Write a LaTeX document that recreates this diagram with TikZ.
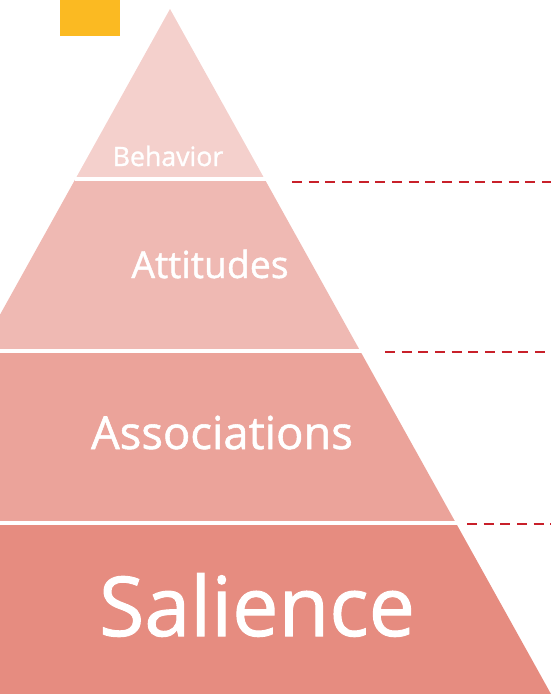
\documentclass[tikz,border=0pt]{standalone}
\usepackage{fontspec}
\setmainfont{Open Sans}
\newfontfamily\lblfont{Open Sans}[FakeBold=1.2]
\usetikzlibrary{positioning, calc}

\definecolor{tagyellow}{HTML}{FBBA22}
\definecolor{behaviorfill}{HTML}{F4D0CC}
\definecolor{attitudesfill}{HTML}{EFB9B3}
\definecolor{associationsfill}{HTML}{EBA39A}
\definecolor{saliencefill}{HTML}{E68C80}
\definecolor{guidered}{HTML}{C8202A}

\begin{document}
\begin{tikzpicture}[x=0.75pt, y=-0.75pt,
    lbl/.style={text=white, inner sep=0pt, anchor=base},
    gap/.style={white, line width=2.4pt},
    guide/.style={guidered, line width=1.7pt, dash pattern=on 7.5pt off 5pt}]

        \path[use as bounding box] (0,0) rectangle (551,694);
        \clip (0,0) rectangle (551,694);

        \fill[tagyellow] (60,0) rectangle (120,36);

        \coordinate (apex) at (170,9);
        \coordinate (L1) at (75.4,179);  \coordinate (R1) at (264.6,179);
        \coordinate (L2) at (-20.2,351); \coordinate (R2) at (360.2,351);
        \coordinate (L3) at (-115.9,523); \coordinate (R3) at (455.9,523);
        \coordinate (L4) at (-211,694);  \coordinate (R4) at (551,694);

        \fill[behaviorfill] (apex) -- (R1) -- (L1) -- cycle;
        \fill[attitudesfill] (L1) -- (R1) -- (R2) -- (L2) -- cycle;
        \fill[associationsfill] (L2) -- (R2) -- (R3) -- (L3) -- cycle;
        \fill[saliencefill] (L3) -- (R3) -- (R4) -- (L4) -- cycle;

        \draw[gap] (L1) -- ($(R1)+(2,0)$);
        \draw[gap] (L2) -- ($(R2)+(2,0)$);
        \draw[gap] (L3) -- ($(R3)+(2,0)$);

        \node[lbl, font=\lblfont\fontsize{20}{24}\selectfont] (behavior) at (168,166) {Behavior};
        \node[lbl, font=\lblfont\fontsize{28}{32}\selectfont] (attitudes) at (210,278) {Attitudes};
        \node[lbl, font=\lblfont\fontsize{34}{40}\selectfont] (associations) at (222,449) {Associations};
        \node[lbl, font=\lblfont\fontsize{62}{72}\selectfont] (salience) at (257,636) {Salience};

        \coordinate (g1) at (292,182);
        \coordinate (g2) at (385,352);
        \coordinate (g3) at (467,524);
        \draw[guide] (g1) -- (g1 -| R4);
        \draw[guide] (g2) -- (g2 -| R4);
        \draw[guide] (g3) -- (g3 -| R4);
    \end{tikzpicture}
\end{document}
